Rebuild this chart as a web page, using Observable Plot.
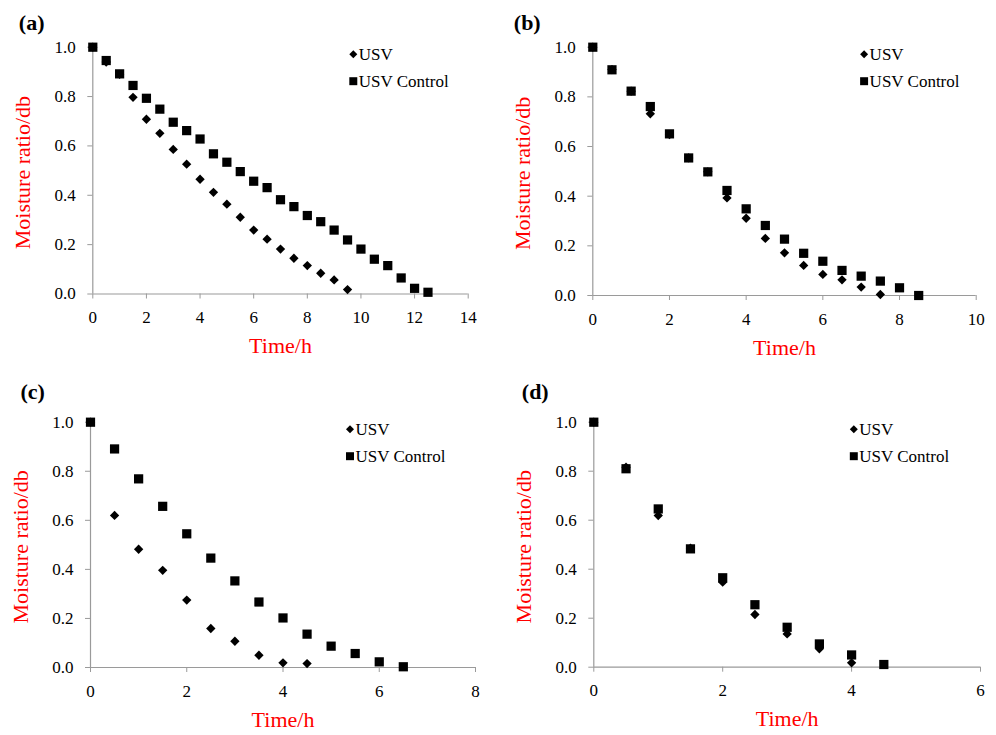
<!DOCTYPE html>
<html>
<head>
<meta charset="utf-8">
<script src="https://cdn.jsdelivr.net/npm/d3@7"></script>
<script src="https://cdn.jsdelivr.net/npm/@observablehq/plot@0.6"></script>
<style>
  html, body { margin: 0; padding: 0; background: #fff; }
  #chart { position: relative; width: 996px; height: 735px; background: #fff; overflow: hidden; }
  #chart > div { position: absolute; }
  #chart svg { font-family: 'Liberation Serif', 'Times New Roman', Times, serif !important; font-size: 17px; overflow: visible; }
  #chart svg text { font-family: 'Liberation Serif', 'Times New Roman', Times, serif !important; }
</style>
</head>
<body>
<div id="chart"></div>
<script>
// ---- Data ----
const seriesNames = ["USV", "USV Control"];
const yTicks = [0, 0.2, 0.4, 0.6, 0.8, 1.0];

// Panel (a)
const xTicksA = [0, 2, 4, 6, 8, 10, 12, 14];
const timeA_USV = [0, 0.5, 1, 1.5, 2, 2.5, 3, 3.5, 4, 4.5, 5, 5.5, 6, 6.5, 7, 7.5, 8, 8.5, 9, 9.5];
const mrA_USV = [1.0, 0.94, 0.89, 0.797, 0.708, 0.651, 0.586, 0.526, 0.465, 0.412, 0.364, 0.311, 0.259, 0.222, 0.182, 0.145, 0.115, 0.084, 0.057, 0.018];
const timeA_Ctrl = [0, 0.5, 1, 1.5, 2, 2.5, 3, 3.5, 4, 4.5, 5, 5.5, 6, 6.5, 7, 7.5, 8, 8.5, 9, 9.5, 10, 10.5, 11, 11.5, 12, 12.5];
const mrA_Ctrl = [1.0, 0.946, 0.892, 0.845, 0.793, 0.749, 0.696, 0.662, 0.628, 0.568, 0.534, 0.496, 0.457, 0.431, 0.382, 0.354, 0.318, 0.293, 0.259, 0.219, 0.182, 0.141, 0.115, 0.065, 0.023, 0.007];

// Panel (b)
const xTicksB = [0, 2, 4, 6, 8, 10];
const timeB_USV = [0, 0.5, 1, 1.5, 2, 2.5, 3, 3.5, 4, 4.5, 5, 5.5, 6, 6.5, 7, 7.5];
const mrB_USV = [1.0, 0.91, 0.823, 0.732, 0.648, 0.554, 0.498, 0.393, 0.311, 0.230, 0.172, 0.121, 0.085, 0.063, 0.034, 0.004];
const timeB_Ctrl = [0, 0.5, 1, 1.5, 2, 2.5, 3, 3.5, 4, 4.5, 5, 5.5, 6, 6.5, 7, 7.5, 8, 8.5];
const mrB_Ctrl = [1.0, 0.909, 0.823, 0.761, 0.651, 0.554, 0.498, 0.423, 0.349, 0.282, 0.227, 0.170, 0.138, 0.101, 0.078, 0.058, 0.031, 0.0];

// Panel (c)
const xTicksC = [0, 2, 4, 6, 8];
const timeC_USV = [0, 0.5, 1, 1.5, 2, 2.5, 3, 3.5, 4, 4.5];
const mrC_USV = [1.0, 0.620, 0.482, 0.396, 0.275, 0.159, 0.107, 0.050, 0.019, 0.016];
const timeC_Ctrl = [0, 0.5, 1, 1.5, 2, 2.5, 3, 3.5, 4, 4.5, 5, 5.5, 6, 6.5];
const mrC_Ctrl = [1.0, 0.891, 0.769, 0.657, 0.545, 0.446, 0.353, 0.267, 0.202, 0.136, 0.087, 0.057, 0.023, 0.003];

// Panel (d)
const xTicksD = [0, 2, 4, 6];
const timeD_USV = [0, 0.5, 1, 1.5, 2, 2.5, 3, 3.5, 4];
const mrD_USV = [1.0, 0.816, 0.619, 0.486, 0.347, 0.215, 0.136, 0.075, 0.018];
const timeD_Ctrl = [0, 0.5, 1, 1.5, 2, 2.5, 3, 3.5, 4, 4.5];
const mrD_Ctrl = [1.0, 0.810, 0.646, 0.483, 0.365, 0.255, 0.163, 0.095, 0.050, 0.011];

const panelLabels = ["(a)", "(b)", "(c)", "(d)"];
const xLabel = "Time/h";
const yLabel = "Moisture ratio/db";

// ---- Drawing ----
const serif = "Liberation Serif";
const axisGray = "#9a9a9a";

function panel(cfg) {
  const usv = cfg.tU.map((t, i) => ({t, mr: cfg.mU[i]}));
  const ctrl = cfg.tC.map((t, i) => ({t, mr: cfg.mC[i]}));
  const xMax = cfg.xTicks[cfg.xTicks.length - 1];
  return Plot.plot({
    width: cfg.w, height: cfg.h,
    marginLeft: cfg.ml, marginRight: cfg.mr, marginTop: cfg.mt, marginBottom: cfg.mb,
    x: {domain: [0, xMax]},
    y: {domain: [0, 1]},
    style: "font-family: 'Liberation Serif', serif; font-size: 17px; color: black; background: white; overflow: visible;",
    marks: [
      Plot.ruleY([0], {stroke: axisGray, strokeWidth: 1.2}),
      Plot.ruleX([0], {stroke: axisGray, strokeWidth: 1.2}),
      Plot.axisX({ticks: cfg.xTicks, tickSize: 5, tickPadding: 12, stroke: axisGray, fill: "black", label: null, fontSize: 17, fontFamily: serif, tickFormat: d => String(d)}),
      Plot.axisY({ticks: yTicks, tickSize: 5, tickPadding: 12, stroke: axisGray, fill: "black", label: null, fontSize: 17, fontFamily: serif, tickFormat: d => d.toFixed(1)}),
      Plot.dot(ctrl, {x: "t", y: "mr", symbol: "square", r: 5.2, fill: "black", stroke: "none"}),
      Plot.dot(usv, {x: "t", y: "mr", symbol: "diamond2", r: 4.2, fill: "black", stroke: "none"}),
      // legend
      Plot.dot([seriesNames[0]], {frameAnchor: "top-left", dx: cfg.lx, dy: 7, symbol: "diamond2", r: 3.6, fill: "black", stroke: "none"}),
      Plot.dot([seriesNames[1]], {frameAnchor: "top-left", dx: cfg.lx, dy: 34, symbol: "square", r: 4.5, fill: "black", stroke: "none"}),
      Plot.text([seriesNames[0]], {frameAnchor: "top-left", dx: cfg.lx + 5.5, dy: 7, text: d => d, textAnchor: "start", lineAnchor: "middle", fontSize: 17, fontFamily: serif, fill: "black"}),
      Plot.text([seriesNames[1]], {frameAnchor: "top-left", dx: cfg.lx + 5.5, dy: 34, text: d => d, textAnchor: "start", lineAnchor: "middle", fontSize: 17, fontFamily: serif, fill: "black"}),
      // axis titles
      Plot.text([yLabel], {frameAnchor: "left", dx: -70, dy: 2, rotate: -90, text: d => d, fill: "#ff0000", fontSize: 22, fontFamily: serif, textAnchor: "middle", lineAnchor: "middle"}),
      Plot.text([xLabel], {frameAnchor: "bottom", dy: 52, text: d => d, fill: "#ff0000", fontSize: 22, fontFamily: serif, textAnchor: "middle", lineAnchor: "middle"}),
      // panel letter
      Plot.text([cfg.label], {frameAnchor: "top-left", dx: cfg.px, dy: cfg.py, text: d => d, fontWeight: "bold", fontSize: 22, fontFamily: serif, textAnchor: "start", lineAnchor: "middle", fill: "black"})
    ]
  });
}

const configs = [
  {left: 0, top: 0, w: 498, h: 367, ml: 92.3, mr: 30.3, mt: 46.7, mb: 73.5, xTicks: xTicksA,
   tU: timeA_USV, mU: mrA_USV, tC: timeA_Ctrl, mC: mrA_Ctrl, lx: 260.5, px: -74, py: -24, label: panelLabels[0]},
  {left: 498, top: 0, w: 498, h: 367, ml: 94.3, mr: 20.3, mt: 46.7, mb: 72, xTicks: xTicksB,
   tU: timeB_USV, mU: mrB_USV, tC: timeB_Ctrl, mC: mrB_Ctrl, lx: 271.3, px: -79, py: -24, label: panelLabels[1]},
  {left: 0, top: 367, w: 498, h: 368, ml: 90, mr: 23, mt: 54.7, mb: 68, xTicks: xTicksC,
   tU: timeC_USV, mU: mrC_USV, tC: timeC_Ctrl, mC: mrC_Ctrl, lx: 259.5, px: -70, py: -30, label: panelLabels[2]},
  {left: 498, top: 367, w: 498, h: 368, ml: 95.3, mr: 16, mt: 54.7, mb: 68.3, xTicks: xTicksD,
   tU: timeD_USV, mU: mrD_USV, tC: timeD_Ctrl, mC: mrD_Ctrl, lx: 260, px: -72, py: -30, label: panelLabels[3]}
];

const chart = document.getElementById("chart");
for (const cfg of configs) {
  const holder = document.createElement("div");
  holder.style.left = cfg.left + "px";
  holder.style.top = cfg.top + "px";
  holder.appendChild(panel(cfg));
  chart.appendChild(holder);
}
</script>
</body>
</html>
